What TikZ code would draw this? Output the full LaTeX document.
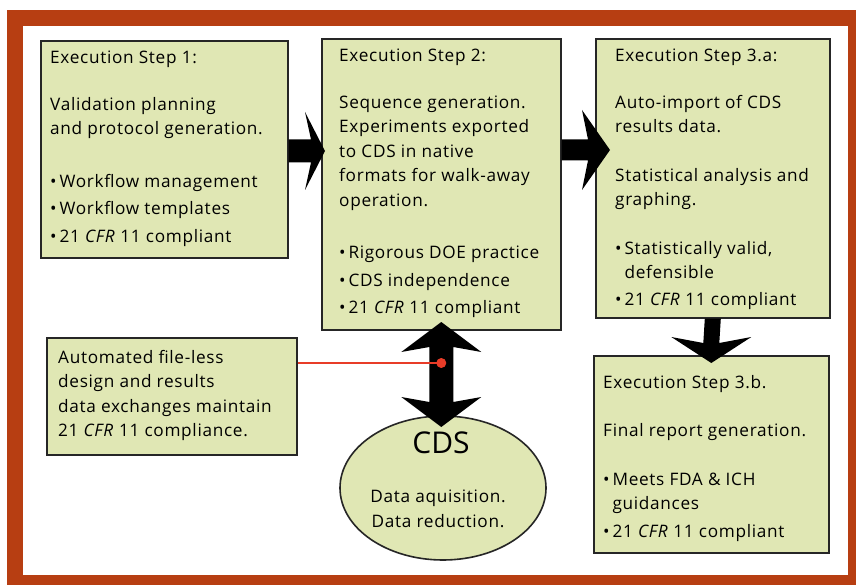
\documentclass[tikz,border=0pt]{standalone}
\usepackage{fontspec}
\setmainfont{Open Sans}
\newfontfamily\bodyfont[LetterSpace=4]{Open Sans}
\usetikzlibrary{calc,shapes.geometric}
\definecolor{framered}{RGB}{183,62,18}
\definecolor{boxfill}{RGB}{224,231,180}
\definecolor{linered}{RGB}{232,60,40}
\tikzset{
  stepbox/.style={draw=black!85, line width=1.6pt, fill=boxfill, rectangle, anchor=north west, inner sep=0pt},
  boxtext/.style={anchor=north west, align=left, inner sep=0pt, font=\bodyfont\fontsize{17.2}{24.5}\selectfont},
  cdstext/.style={align=center, inner sep=0pt, font=\bodyfont\fontsize{17.2}{24.5}\selectfont},
  blockarrow/.style={fill=black},
}
\newcommand{\bul}{\textbullet\,}
\begin{document}
\begin{tikzpicture}[x=1pt,y=-1pt]
\useasboundingbox (0,0) rectangle (856,585);
% frame
\fill[framered] (7,10) rectangle (870,600);
\fill[white] (23,26) rectangle (848,575);
% boxes
\node[stepbox, minimum width=247pt, minimum height=217pt] (s1) at (40,40) {};
\node[stepbox, minimum width=239pt, minimum height=291pt] (s2) at (321,38) {};
\node[stepbox, minimum width=234pt, minimum height=279pt] (s3a) at (595,38) {};
\node[stepbox, minimum width=235pt, minimum height=197pt] (s3b) at (593,355) {};
\node[stepbox, minimum width=250pt, minimum height=117pt] (note) at (46,337) {};
\node[draw=black!85, line width=1.6pt, fill=boxfill, ellipse, minimum width=206pt, minimum height=144pt, inner sep=0pt] (cds) at (443,488) {};
% texts
\node[boxtext] (t1) at ($(s1.north west)+(10,11)$) {Execution Step 1:\\[22pt]
Validation planning\\and protocol generation.\\[28pt]
\bul Workflow management\\[3pt]\bul Workflow templates\\[3pt]\bul 21 \textit{CFR} 11 compliant};
\node[boxtext] (t2) at ($(s2.north west)+(18,11)$) {Execution Step 2:\\[22pt]
Sequence generation.\\Experiments exported\\to CDS in native\\formats for walk-away\\operation.\\[28pt]
\bul Rigorous DOE practice\\[3pt]\bul CDS independence\\[3pt]\bul 21 \textit{CFR} 11 compliant};
\node[boxtext] (t3a) at ($(s3a.north west)+(20,11)$) {Execution Step 3.a:\\[22pt]
Auto-import of CDS\\results data.\\[24pt]
Statistical analysis and\\graphing.\\[24pt]
\bul Statistically valid,\\\phantom{\bul}defensible\\[2pt]\bul 21 \textit{CFR} 11 compliant};
\node[boxtext] (t3b) at ($(s3b.north west)+(10,20)$) {Execution Step 3.b.\\[24pt]
Final report generation.\\[24pt]
\bul Meets FDA \& ICH\\\phantom{\bul}guidances\\[3pt]\bul 21 \textit{CFR} 11 compliant};
\node[boxtext] (tn) at ($(note.north west)+(12,13)$) {Automated file-less\\design and results\\data exchanges maintain\\21 \textit{CFR} 11 compliance.};
\node[inner sep=0pt, font=\fontsize{30}{30}\selectfont] (cdsl) at (441,443) {CDS};
\node[cdstext] (cdst) at (438,509) {Data aquisition.\\Data reduction.};
% block arrows
\coordinate (a1s) at (s1.east |- 0,151);
\coordinate (a1e) at (325,151);
\fill[blockarrow] ($(a1s)+(0,-11.5)$) -- ($(a1e)+(-14,-11.5)$) -- ($(a1e)+(-20,-39)$) -- (a1e) -- ($(a1e)+(-20,39)$) -- ($(a1e)+(-14,11.5)$) -- ($(a1s)+(0,11.5)$) -- cycle;
\coordinate (a2s) at (s2.east |- 0,150);
\coordinate (a2e) at (610,150);
\fill[blockarrow] ($(a2s)+(0,-10.5)$) -- ($(a2e)+(-22,-10.5)$) -- ($(a2e)+(-28,-40)$) -- (a2e) -- ($(a2e)+(-28,40)$) -- ($(a2e)+(-22,10.5)$) -- ($(a2s)+(0,10.5)$) -- cycle;
\coordinate (a3s) at (s3a.south);
\coordinate (a3e) at (s3b.north |- 0,363);
\fill[blockarrow] ($(a3s)+(-8,0)$) -- ($(a3e)+(-8,-20)$) -- ($(a3e)+(-40,-26)$) -- (a3e) -- ($(a3e)+(40,-26)$) -- ($(a3e)+(8,-20)$) -- ($(a3s)+(8,0)$) -- cycle;
\coordinate (a4t) at (s2.south |- 0,322);
\coordinate (a4b) at (s2.south |- 0,427);
\fill[blockarrow] (a4t) -- ($(a4t)+(40,30)$) -- ($(a4t)+(12,25)$) -- ($(a4b)+(12,-25)$) -- ($(a4b)+(40,-30)$) -- (a4b) -- ($(a4b)+(-40,-30)$) -- ($(a4b)+(-12,-25)$) -- ($(a4t)+(-12,25)$) -- ($(a4t)+(-40,30)$) -- cycle;
% red connector
\coordinate (dot) at (s2.south |- 0,363);
\draw[linered, line width=1.2pt] (note.east |- dot) -- (dot);
\fill[linered] (dot) circle (5pt);
\end{tikzpicture}
\end{document}
